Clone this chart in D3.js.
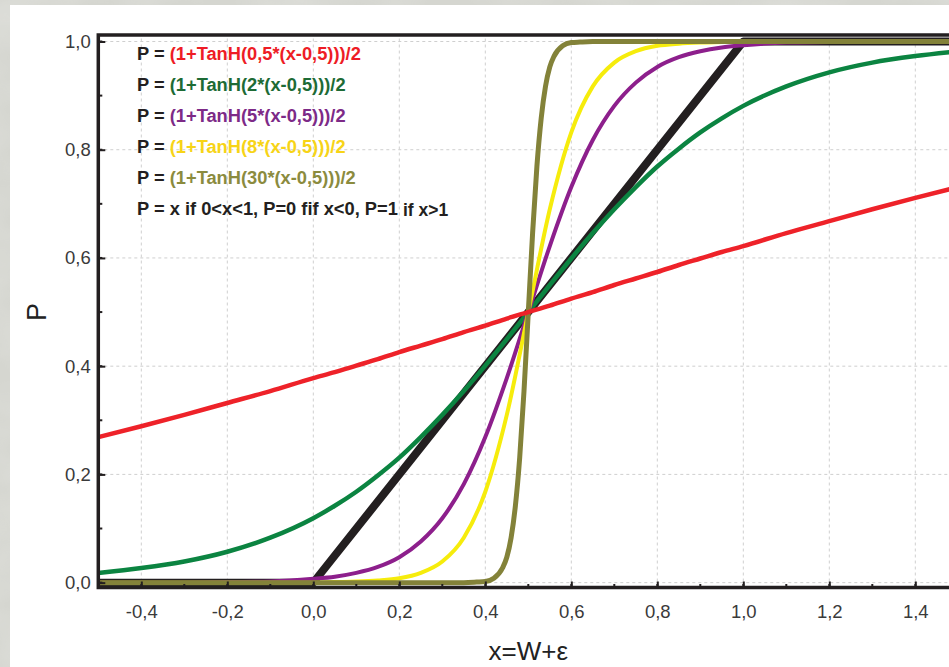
<!DOCTYPE html>
<html>
<head>
<meta charset="utf-8">
<script src="https://cdn.jsdelivr.net/npm/d3@7"></script>
<style>
  body { margin: 0; background: #d7d8d2; }
  svg { display: block; }
</style>
</head>
<body>
<div id="chart"></div>
<script>
// sample points
const xGrid = [-0.5, -0.4, -0.3, -0.2, -0.1, 0, 0.05, 0.1, 0.15, 0.2, 0.25, 0.3, 0.35, 0.4, 0.45, 0.5,
  0.55, 0.6, 0.65, 0.7, 0.75, 0.8, 0.85, 0.9, 0.95, 1.0, 1.1, 1.2, 1.3, 1.4, 1.5];
const redValues = [0.269, 0.289, 0.310, 0.332, 0.354, 0.378, 0.389, 0.401, 0.413, 0.426, 0.438, 0.450, 0.463, 0.475, 0.488, 0.500,
  0.512, 0.525, 0.537, 0.550, 0.562, 0.574, 0.587, 0.599, 0.611, 0.622, 0.646, 0.668, 0.690, 0.711, 0.731];
const greenValues = [0.018, 0.027, 0.039, 0.057, 0.083, 0.119, 0.142, 0.168, 0.198, 0.231, 0.269, 0.310, 0.354, 0.401, 0.450, 0.500,
  0.550, 0.599, 0.646, 0.690, 0.731, 0.769, 0.802, 0.832, 0.858, 0.881, 0.917, 0.943, 0.961, 0.973, 0.982];
const purpleValues = [0.000, 0.000, 0.000, 0.001, 0.002, 0.007, 0.011, 0.018, 0.029, 0.047, 0.076, 0.119, 0.182, 0.269, 0.378, 0.500,
  0.622, 0.731, 0.818, 0.881, 0.924, 0.953, 0.971, 0.982, 0.989, 0.993, 0.998, 0.999, 1.000, 1.000, 1.000];
const yellowValues = [0, 0, 0, 0, 0, 0.000, 0.001, 0.002, 0.004, 0.008, 0.018, 0.039, 0.083, 0.168, 0.310, 0.500,
  0.690, 0.832, 0.917, 0.961, 0.982, 0.992, 0.996, 0.998, 0.999, 1.000, 1, 1, 1, 1, 1];
const xSteep = [-0.5, 0.3, 0.35, 0.38, 0.4, 0.42, 0.44, 0.45, 0.46, 0.47, 0.48, 0.49, 0.5,
  0.51, 0.52, 0.53, 0.54, 0.55, 0.56, 0.58, 0.6, 0.62, 0.65, 0.7, 1.5];
const oliveValues = [0, 0.000, 0.000, 0.001, 0.002, 0.008, 0.027, 0.047, 0.083, 0.142, 0.231, 0.354, 0.500,
  0.646, 0.769, 0.858, 0.917, 0.953, 0.973, 0.992, 0.998, 0.999, 1.000, 1, 1];
const xLinear = [-0.5, 0, 1, 1.5];
const linearValues = [0, 0, 1, 1];

const xTicks = [-0.4, -0.2, 0, 0.2, 0.4, 0.6, 0.8, 1.0, 1.2, 1.4];
const yTicks = [0, 0.2, 0.4, 0.6, 0.8, 1.0];
const legendLabels = [
  "(1+TanH(0,5*(x-0,5)))/2",
  "(1+TanH(2*(x-0,5)))/2",
  "(1+TanH(5*(x-0,5)))/2",
  "(1+TanH(8*(x-0,5)))/2",
  "(1+TanH(30*(x-0,5)))/2"
];

const W = 949, H = 667;
const FONT = "Arial, 'Liberation Sans', Helvetica, sans-serif";

class SigmoidChart {
  constructor(domId) {
    this._svg = d3.select(domId).append("svg")
      .attr("width", W).attr("height", H);
    this._x = d3.scaleLinear().domain([-0.5, 1.5]).range([98.3, 958.3]);
    this._y = d3.scaleLinear().domain([-0.009, 1.012]).range([587.5, 35]);
    this._series = [
      { xs: xLinear, ys: linearValues, color: "#231f20", width: 8, curve: d3.curveLinear },
      { xs: xGrid, ys: greenValues, color: "#0b8441", width: 4.5 },
      { xs: xGrid, ys: purpleValues, color: "#8d1f8c", width: 4 },
      { xs: xGrid, ys: yellowValues, color: "#f6ec0c", width: 4 },
      { xs: xSteep, ys: oliveValues, color: "#838239", width: 5 },
      { xs: xGrid, ys: redValues, color: "#ee2229", width: 4.5 }
    ];
  }

  render() {
    this.renderBackground()
    this.renderGrid()
    this.renderLines()
    this.renderFrame()
    this.renderAxes()
    this.renderTitles()
    this.renderLegend()
  }

  // 背景和白色面板
  renderBackground() {
    const defs = this._svg.append("defs");
    const f = defs.append("filter").attr("id", "marble")
      .attr("x", 0).attr("y", 0).attr("width", "100%").attr("height", "100%");
    f.append("feTurbulence").attr("type", "fractalNoise")
      .attr("baseFrequency", "0.012 0.02").attr("numOctaves", 3).attr("seed", 4);
    f.append("feColorMatrix").attr("type", "matrix")
      .attr("values", "0 0 0 0 1  0 0 0 0 1  0 0 0 0 1  0.6 0 0 0 -0.2");
    this._svg.append("rect").attr("width", W).attr("height", H).attr("fill", "#d5d6d0");
    this._svg.append("rect").attr("width", W).attr("height", H).attr("filter", "url(#marble)").attr("opacity", 0.6);
    this._svg.append("rect").attr("x", 10).attr("y", 5)
      .attr("width", W).attr("height", H).attr("fill", "#ffffff");
  }

  renderGrid() {
    const [x0, x1] = this._x.range(), [y0, y1] = this._y.range();
    const g = this._svg.append("g")
      .attr("stroke", "#cfcfcf").attr("stroke-width", 1).attr("stroke-dasharray", "3,3");
    g.selectAll(".gx").data(xTicks).join("line")
      .attr("x1", d => this._x(d)).attr("x2", d => this._x(d))
      .attr("y1", y0).attr("y2", y1);
    g.selectAll(".gy").data(yTicks).join("line")
      .attr("y1", d => this._y(d)).attr("y2", d => this._y(d))
      .attr("x1", x0).attr("x2", x1);
  }

  renderLines() {
    const g = this._svg.append("g").attr("fill", "none")
      .attr("stroke-linejoin", "round").attr("stroke-linecap", "butt");
    this._series.forEach(s => {
      const line = d3.line()
        .x(d => this._x(d[0]))
        .y(d => this._y(d[1]))
        .curve(s.curve || d3.curveMonotoneX);
      g.append("path")
        .datum(s.xs.map((x, i) => [x, s.ys[i]]))
        .attr("d", line)
        .attr("stroke", s.color)
        .attr("stroke-width", s.width);
    });
  }

  // 边框
  renderFrame() {
    const [x0, x1] = this._x.range(), [y0, y1] = this._y.range();
    this._svg.append("path")
      .attr("d", `M${x1},${y1}H${x0}V${y0}H${x1}`)
      .attr("fill", "none").attr("stroke", "#231f20").attr("stroke-width", 3.5);
  }

  renderAxes() {
    const fmt = d => d3.format(".1f")(d).replace(".", ",").replace("−", "-");
    const [y0] = this._y.range(), [x0] = this._x.range();
    const minorX = d3.range(-5, 16).map(d => d / 10);
    const minorY = d3.range(0, 11).map(d => d / 10);

    const xAxis = this._svg.append("g").attr("transform", `translate(0,${y0})`)
      .call(d3.axisBottom(this._x).tickValues(xTicks).tickSize(-6).tickPadding(17).tickFormat(fmt));
    const yAxis = this._svg.append("g").attr("transform", `translate(${x0},0)`)
      .call(d3.axisLeft(this._y).tickValues(yTicks).tickSize(-7).tickPadding(7.5).tickFormat(fmt));

    [xAxis, yAxis].forEach(a => {
      a.select(".domain").remove();
      a.selectAll("line").attr("stroke", "#231f20").attr("stroke-width", 2);
      a.selectAll("text").attr("font-family", FONT).attr("font-size", 18.5).attr("fill", "#3a3a3a");
    });

    this._svg.append("g").selectAll("line").data(minorX).join("line")
      .attr("x1", d => this._x(d)).attr("x2", d => this._x(d))
      .attr("y1", y0).attr("y2", y0 - 3.5)
      .attr("stroke", "#231f20").attr("stroke-width", 2);
    this._svg.append("g").selectAll("line").data(minorY).join("line")
      .attr("y1", d => this._y(d)).attr("y2", d => this._y(d))
      .attr("x1", x0).attr("x2", x0 + 4)
      .attr("stroke", "#231f20").attr("stroke-width", 2);
  }

  renderTitles() {
    this._svg.append("text")
      .attr("x", this._x(0.5)).attr("y", 660)
      .attr("text-anchor", "middle")
      .attr("font-family", FONT).attr("font-size", 26).attr("fill", "#222")
      .text("x=W+ε");
    this._svg.append("text")
      .attr("transform", `translate(46,${this._y(0.5)}) rotate(-90)`)
      .attr("text-anchor", "middle")
      .attr("font-family", FONT).attr("font-size", 27).attr("fill", "#222")
      .text("P");
  }

  // 图例文字
  renderLegend() {
    const colors = ["#ee1c25", "#1d6b35", "#7d2a87", "#f7d417", "#8b8b3e"];
    const g = this._svg.append("g")
      .attr("font-family", FONT).attr("font-size", 18.3).attr("font-weight", "bold");
    legendLabels.forEach((lbl, i) => {
      const t = g.append("text").attr("x", 137).attr("y", 59.5 + i * 31);
      t.append("tspan").attr("fill", "#231f20").text("P = ");
      t.append("tspan").attr("fill", colors[i]).text(lbl);
    });
    const last = g.append("text").attr("x", 137).attr("y", 59.5 + 5 * 31).attr("fill", "#231f20");
    last.append("tspan").text("P = x if 0<x<1, P=0 fif x<0, P=1 ");
    last.append("tspan").attr("font-size", 17.5).attr("dy", 1).text("if x>1");
  }
}

new SigmoidChart("#chart").render();
</script>
</body>
</html>
